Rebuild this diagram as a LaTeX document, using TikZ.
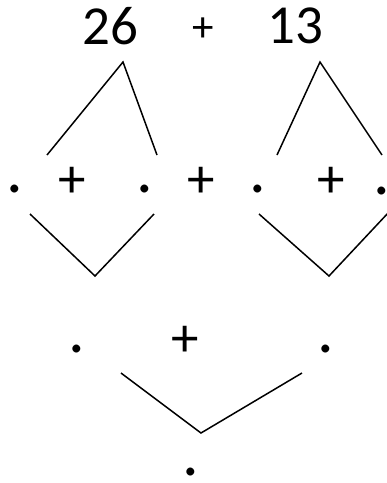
\documentclass[tikz,border=0pt]{standalone}
\usepackage{fontspec}
\setmainfont{Carlito}
\usepackage{tikz}
\usetikzlibrary{positioning,calc}
\definecolor{ink}{HTML}{000000}

\begin{document}
\begin{tikzpicture}[x=1pt,y=-1pt,
  num/.style={inner sep=0pt,text=ink,font=\fontsize{55}{60}\selectfont},
  op/.style={inner sep=0pt,text=ink,font=\fontsize{55}{60}\selectfont},
  smallop/.style={inner sep=0pt,text=ink,font=\fontsize{43}{48}\selectfont},
  dotnode/.style={inner sep=0pt,text=ink,font=\fontsize{66}{70}\selectfont},
  branch/.style={draw=ink,line width=1.5pt}]
  \useasboundingbox (0,0) rectangle (387,483);
  % top row
  \node[num] (a) at (110,26) {26};
  \node[smallop] (plustop) at (203,30) {+};
  \node[num] (b) at (295,26) {13};
  % split of 26 and 13
  \coordinate (aapex) at (123,62);
  \coordinate (aleft) at (47,155);
  \coordinate (aright) at (157,155);
  \coordinate (bapex) at (320,62);
  \coordinate (bleft) at (277,155);
  \coordinate (bright) at (382,155);
  \draw[branch] (aleft) -- (aapex) -- (aright);
  \draw[branch] (bleft) -- (bapex) -- (bright);
  % second row
  \node[dotnode] (a1) at (15,189) {.};
  \node[op] (plusa) at (72,182) {+};
  \node[dotnode] (a2) at (145,189) {.};
  \node[op] (plusmid) at (201,182) {+};
  \node[dotnode] (b1) at (258,189) {.};
  \node[op] (plusb) at (331,182) {+};
  \node[dotnode] (b2) at (382,191) {.};
  % join each pair
  \coordinate (ajl) at (30,214);
  \coordinate (ajoin) at (95,276);
  \coordinate (ajr) at (154,214);
  \coordinate (bjl) at (259,214);
  \coordinate (bjoin) at (329,276);
  \coordinate (bjr) at (389,212);
  \draw[branch] (ajl) -- (ajoin) -- (ajr);
  \draw[branch] (bjl) -- (bjoin) -- (bjr);
  % third row
  \node[dotnode] (c1) at (77,349) {.};
  \node[op] (pluslow) at (185,341) {+};
  \node[dotnode] (c2) at (326,349) {.};
  \coordinate (cjl) at (121,373);
  \coordinate (cjoin) at (201,433);
  \coordinate (cjr) at (302,373);
  \draw[branch] (cjl) -- (cjoin) -- (cjr);
  % result
  \node[dotnode] (total) at (191,472) {.};
\end{tikzpicture}
\end{document}
